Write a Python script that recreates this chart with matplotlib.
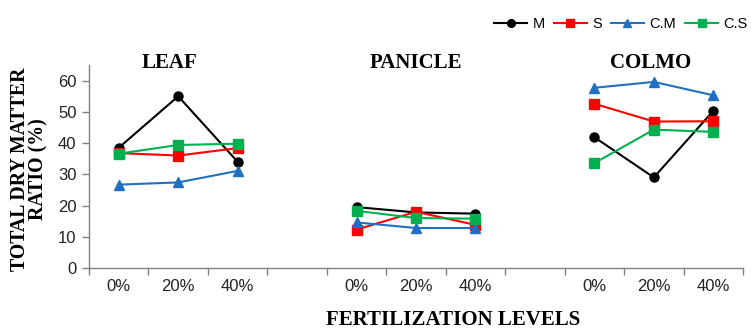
import numpy as np
import matplotlib
matplotlib.use("Agg")
import matplotlib.pyplot as plt

nan = np.nan
levels = ["0%", "20%", "40%", "", "0%", "20%", "40%", "", "0%", "20%", "40%"]
organs = ["LEAF", "PANICLE", "COLMO"]
series_names = ["M", "S", "C.M", "C.S"]

M   = [38.5, 55.0, 34.0, nan, 19.5, 17.8, 17.4, nan, 41.9, 29.0, 50.3]
S   = [36.8, 36.0, 38.4, nan, 12.3, 18.0, 13.8, nan, 52.6, 46.9, 47.0]
CM  = [26.7, 27.4, 31.1, nan, 14.6, 12.8, 12.8, nan, 57.7, 59.6, 55.3]
CS  = [36.6, 39.4, 39.8, nan, 18.3, 16.0, 15.8, nan, 33.6, 44.3, 43.6]

colors = ["#000000", "#FF0000", "#1F70C1", "#00B050"]
markers = ["o", "s", "^", "s"]

fig = plt.figure(figsize=(7.52, 3.29), dpi=100)
ax = fig.add_axes([0.1184, 0.1854, 0.8696, 0.617])

x = np.arange(len(levels))
for vals, name, c, m in zip([M, S, CM, CS], series_names, colors, markers):
    ax.plot(x, vals, color=c, marker=m, markersize=6.5, linewidth=1.5, label=name)

ax.set_xlim(-0.5, 10.5)
ax.set_ylim(0, 65)
ax.set_yticks(np.arange(0, 61, 10))
ax.set_xticks(x)
ax.set_xticklabels(levels)
ax.set_xticks(np.arange(-0.5, 10.6, 1.0), minor=True)
ax.tick_params(axis="x", which="major", length=0, pad=8, labelsize=12, labelcolor="#222222")
ax.tick_params(axis="x", which="minor", length=5, width=1, color="#808080", direction="out")
ax.tick_params(axis="y", which="major", length=5, width=1, color="#808080", labelsize=12, labelcolor="#222222", pad=4)
for t in ax.get_xticklabels() + ax.get_yticklabels():
    t.set_fontfamily("Liberation Sans")
for s in ["top", "right"]:
    ax.spines[s].set_visible(False)
for s in ["left", "bottom"]:
    ax.spines[s].set_color("#808080")
    ax.spines[s].set_linewidth(1)

title_pos = [0.85, 5.0, 8.95]
for org, px in zip(organs, title_pos):
    ax.text(px, 65.6, org, ha="center", va="center", fontsize=15,
            fontweight="bold", family="Liberation Serif", clip_on=False)

fig.text(0.039, 0.487, "TOTAL DRY MATTER\nRATIO (%)", rotation=90, ha="center", va="center",
         fontsize=14.3, fontweight="bold", family="Liberation Serif", linespacing=0.9)
fig.text(0.602, 0.028, "FERTILIZATION LEVELS", ha="center", va="center",
         fontsize=15, fontweight="bold", family="Liberation Serif")

leg = fig.legend(loc="center right", bbox_to_anchor=(1.006, 0.928), ncol=4, frameon=False,
                 prop={"family": "Liberation Sans", "size": 10.5}, handlelength=2.3,
                 columnspacing=0.6, handletextpad=0.35, borderaxespad=0.2, markerscale=0.85)

fig.savefig("out.png", dpi=100)
